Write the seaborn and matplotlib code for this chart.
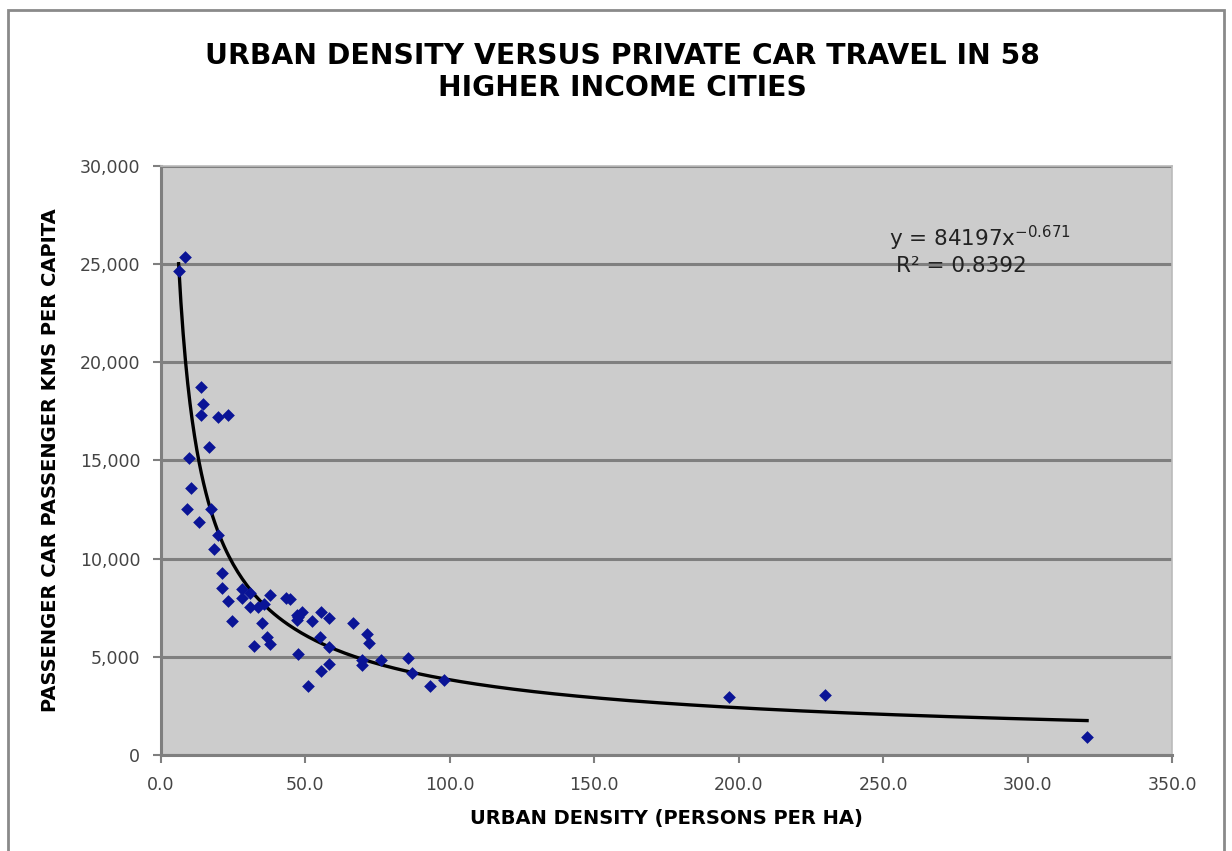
'''
urban density versus private car travel, scatter with power trendline
'''
import numpy as np
import pandas as pd
import seaborn as sns
import matplotlib.pyplot as plt
from matplotlib.patches import Rectangle

# persons per ha
density = [6.1, 8.3, 13.7, 14.4, 13.7, 19.8, 23.3, 16.5, 9.8, 10.3,
           8.9, 17.2, 13.2, 19.8, 18.4, 21.2, 21.2, 23.3, 24.7, 27.9,
           27.9, 30.8, 30.8, 33.7, 35.8, 37.7, 35.1, 32.3, 36.8, 37.7,
           43.3, 44.8, 47.0, 48.7, 47.0, 47.6, 52.2, 55.4, 58.3, 47.3,
           50.8, 55.0, 58.0, 58.3, 55.4, 66.5, 71.2, 72.0, 69.5, 69.5,
           76.0, 85.6, 87.0, 93.1, 98.0, 196.6, 229.8, 320.6]
# passenger car passenger kms per capita
car_km = [24670, 25380, 18760, 17860, 17340, 17230, 17340, 15700, 15110, 13620,
          12510, 12510, 11890, 11210, 10500, 9250, 8490, 7860, 6840, 8440,
          7980, 8240, 7550, 7550, 7690, 8150, 6740, 5550, 6030, 5640,
          7980, 7950, 7130, 7300, 6880, 7050, 6840, 7270, 6960, 5150,
          3530, 6000, 5500, 4640, 4300, 6740, 6160, 5720, 4590, 4840,
          4860, 4960, 4160, 3530, 3820, 2950, 3060, 900]

coef_a = 84197
coef_b = -0.671

df = pd.DataFrame({'density': density, 'car_km': car_km})

plt.rcParams['font.family'] = ['DejaVu Sans']
fig = plt.figure(figsize=(12.32, 8.51), dpi=100)
ax = fig.add_axes([161 / 1232, 1 - 755 / 851, (1172 - 161) / 1232, (755 - 166) / 851])
ax.set_facecolor('#cccccc')

# power trendline over the data range
xs = np.linspace(min(density), max(density), 400)
ax.plot(xs, coef_a * xs ** coef_b, color='black', lw=2.4, zorder=3)

sns.scatterplot(data=df, x='density', y='car_km', marker='D', s=42,
                color='#0a1496', edgecolor='#0a1496', linewidth=0, ax=ax, zorder=4)

ax.set_xlim(0, 350)
ax.set_ylim(0, 30000)
ax.set_xticks(np.arange(0, 351, 50))
ax.set_xticklabels([f'{v:.1f}' for v in np.arange(0, 351, 50)])
ax.set_yticks(np.arange(0, 30001, 5000))
ax.set_yticklabels([f'{v:,}' for v in range(0, 30001, 5000)])
ax.yaxis.grid(True, color='#7f7f7f', lw=2.2)
ax.set_axisbelow(True)
ax.tick_params(colors='#7f7f7f', labelcolor='#444444', labelsize=12.5, width=1.5, length=6)
ax.tick_params(axis='x', pad=9)
ax.tick_params(axis='y', pad=9)
for side in ['left', 'bottom']:
    ax.spines[side].set_color('#7f7f7f')
    ax.spines[side].set_linewidth(2.2)
for side in ['top', 'right']:
    ax.spines[side].set_color('#bbbbbb')
    ax.spines[side].set_linewidth(1.2)

ax.set_xlabel('URBAN DENSITY (PERSONS PER HA)', fontsize=14, fontweight='bold', labelpad=11)
ax.set_ylabel('PASSENGER CAR PASSENGER KMS PER CAPITA', fontsize=14, fontweight='bold', labelpad=14)

ax.text(0.81, 0.877, r'y = 84197x$^{-0.671}$', transform=ax.transAxes, fontsize=15.5,
        color='#222222', ha='center', va='center')
ax.text(0.792, 0.83, 'R² = 0.8392', transform=ax.transAxes, fontsize=15.5,
        color='#222222', ha='center', va='center')

fig.text(622 / 1232, 1 - 56 / 851, 'URBAN DENSITY VERSUS PRIVATE CAR TRAVEL IN 58',
         ha='center', va='center', fontsize=20.3, fontweight='bold')
fig.text(622 / 1232, 1 - 88 / 851, 'HIGHER INCOME CITIES',
         ha='center', va='center', fontsize=20.3, fontweight='bold')

# chart frame
fig.patches.append(Rectangle((8 / 1232, -0.02), (1224 - 8) / 1232, 1 - 10 / 851 + 0.02,
                             transform=fig.transFigure, fill=False, edgecolor='#8a8a8a', lw=2))

fig.savefig('out.png', dpi=100)
